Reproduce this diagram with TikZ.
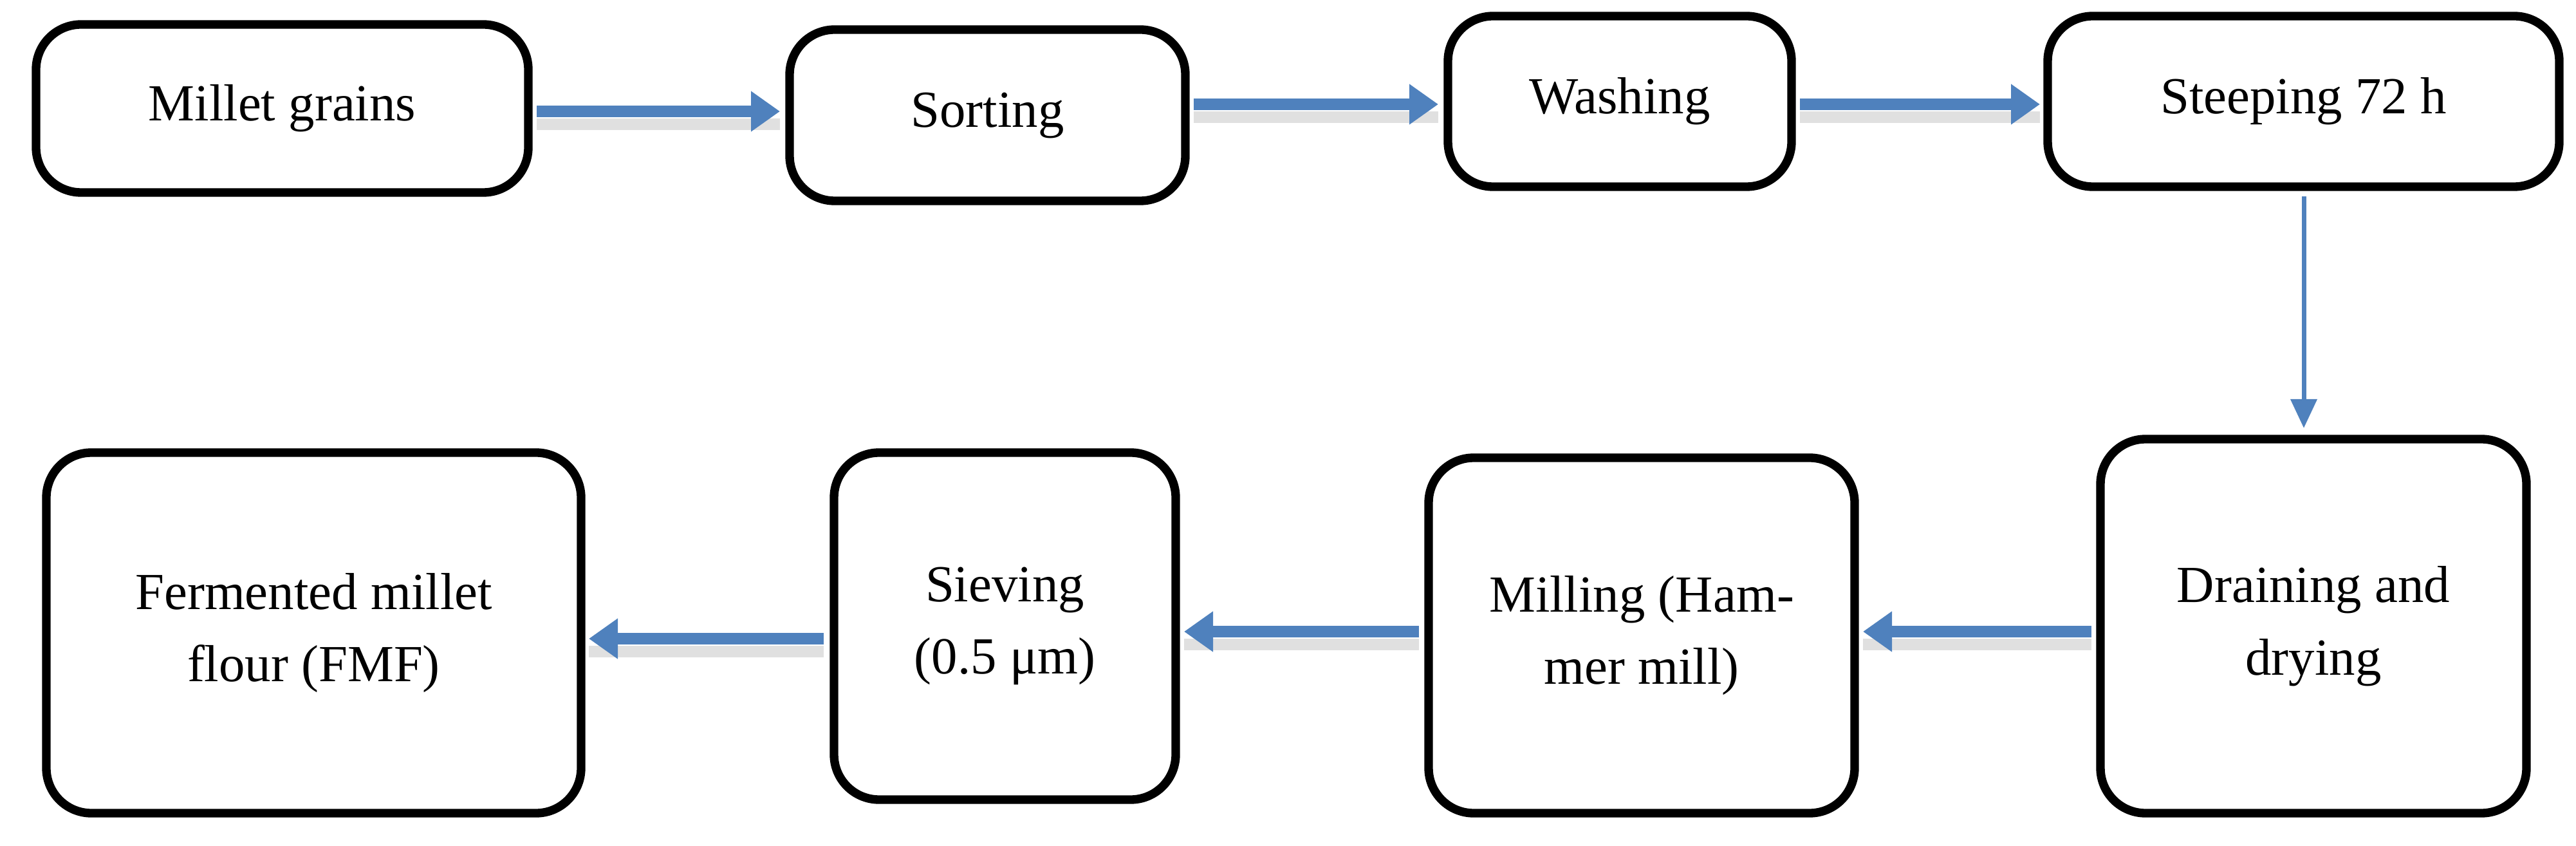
\documentclass[tikz,border=0pt]{standalone}
\usepackage{fontspec}
\setmainfont{Liberation Serif}
\usetikzlibrary{arrows.meta}
\definecolor{arrblue}{RGB}{79,129,189}
\begin{document}
\begin{tikzpicture}[x=1cm,y=-1cm,
  box/.style={draw=black,line width=3.8pt,rounded corners=0.7cm,align=center,font=\fontsize{23}{32}\selectfont},
  arr/.style={draw=arrblue,color=arrblue,line width=5pt,-{Triangle[length=0.45cm,width=0.6cm]}},
  sh/.style={draw=black!12,line width=5pt}]
\useasboundingbox (0,0) rectangle (40.03,13.14);
\newcommand{\bx}[6]{\node[box,minimum width=#3cm-#2cm,minimum height=#5cm-#4cm] (#1) at ({(#2+#3)/2},{(#4+#5)/2}) {#6};}
\bx{a}{0.56}{8.21}{0.38}{2.99}{Millet grains}
\bx{b}{12.27}{18.42}{0.46}{3.12}{Sorting}
\bx{c}{22.5}{27.84}{0.25}{2.90}{Washing}
\bx{d}{31.82}{39.77}{0.25}{2.90}{Steeping 72 h}
\bx{e}{32.64}{39.26}{6.82}{12.63}{Draining and\\drying}
\bx{f}{22.2}{28.82}{7.11}{12.63}{Milling (Ham-\\mer mill)}
\bx{g}{12.96}{18.27}{7.03}{12.42}{Sieving\\(0.5 μm)}
\bx{h}{0.72}{9.03}{7.03}{12.63}{Fermented millet\\flour (FMF)}
\coordinate (a1) at (8.34,1.73); \coordinate (b0) at (12.12,1.73);
\coordinate (b1) at (18.55,1.62); \coordinate (c0) at (22.35,1.62);
\coordinate (c1) at (27.97,1.62); \coordinate (d0) at (31.70,1.62);
\coordinate (d1) at (35.8,3.05); \coordinate (e0) at (35.8,6.65);
\coordinate (e1) at (32.5,9.81); \coordinate (f0) at (28.95,9.81);
\coordinate (f1) at (22.05,9.81); \coordinate (g0) at (18.40,9.81);
\coordinate (g1) at (12.80,9.92); \coordinate (h0) at (9.15,9.92);
\foreach \p/\q in {a1/b0,b1/c0,c1/d0,e1/f0,f1/g0,g1/h0}{
  \draw[sh] ([yshift=-0.2cm]\p) -- ([yshift=-0.2cm]\q);
  \draw[arr] (\p) -- (\q);}
\draw[arr,line width=2pt,-{Triangle[length=0.45cm,width=0.4cm]}] (d1) -- (e0);
\end{tikzpicture}
\end{document}
